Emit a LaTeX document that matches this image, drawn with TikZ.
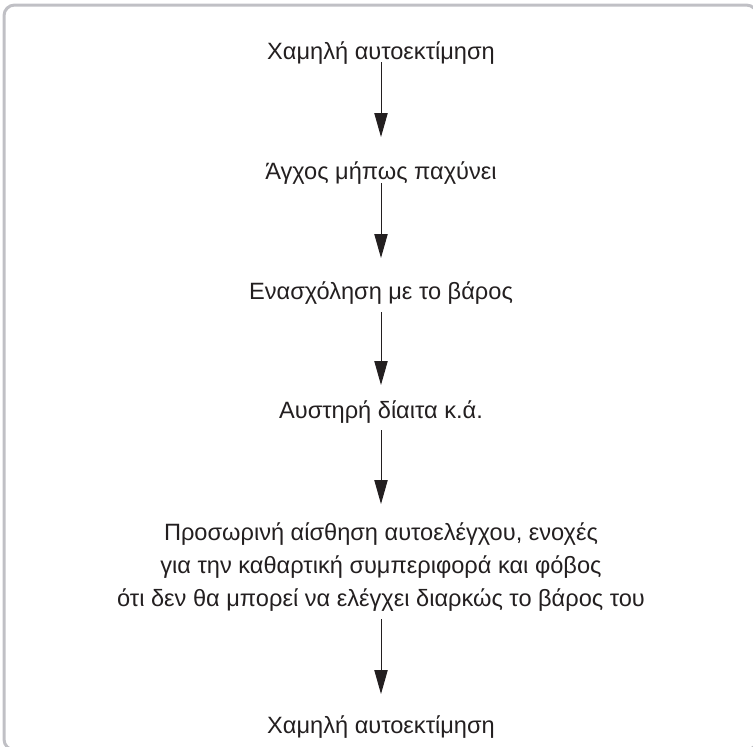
\documentclass[tikz,border=0pt]{standalone}
\usepackage{fontspec}
\setmainfont{Liberation Sans}
\usetikzlibrary{arrows.meta}
\definecolor{framegray}{RGB}{192,192,197}
\definecolor{ink}{RGB}{35,31,32}
\begin{document}
\begin{tikzpicture}[x=0.75pt,y=-0.75pt,
  lbl/.style={inner sep=0pt, text=ink, font=\fontsize{17.7}{25}\selectfont, align=center},
  arr/.style={-{Triangle[length=18pt,width=10pt]}, line width=0.75pt, draw=ink, fill=ink}]
\useasboundingbox (0,0) rectangle (753,746);
\clip (0,0) rectangle (753,746);
\draw[framegray, line width=2.25pt, rounded corners=8pt] (4,5) rectangle (757,750);
\node[lbl, anchor=base] (t1) at (381,59) {Χαμηλή αυτοεκτίμηση};
\node[lbl, anchor=base] (t2) at (381,179) {Άγχος μήπως παχύνει};
\node[lbl, anchor=base] (t3) at (381,299) {Ενασχόληση με το βάρος};
\node[lbl, anchor=base] (t4) at (381,418) {Αυστηρή δίαιτα κ.ά.};
\node[lbl] (m) at (381,567) {Προσωρινή αίσθηση αυτοελέγχου, ενοχές\\για την καθαρτική συμπεριφορά και φόβος\\ότι δεν θα μπορεί να ελέγχει διαρκώς το βάρος του};
\node[lbl, anchor=base] (t6) at (381,733) {Χαμηλή αυτοεκτίμηση};
\draw[arr] ([yshift=-2.25pt]t1.base) -- ([yshift=31.5pt]t2.base);
\draw[arr] ([yshift=-3pt]t2.base) -- ([yshift=30.75pt]t3.base);
\draw[arr] ([yshift=-9.75pt]t3.base) -- ([yshift=24.75pt]t4.base);
\draw[arr] ([yshift=-9pt]t4.base) -- ([yshift=47.25pt]m.center);
\draw[arr] ([yshift=-39pt]m.center) -- ([yshift=29.25pt]t6.base);
\end{tikzpicture}
\end{document}
